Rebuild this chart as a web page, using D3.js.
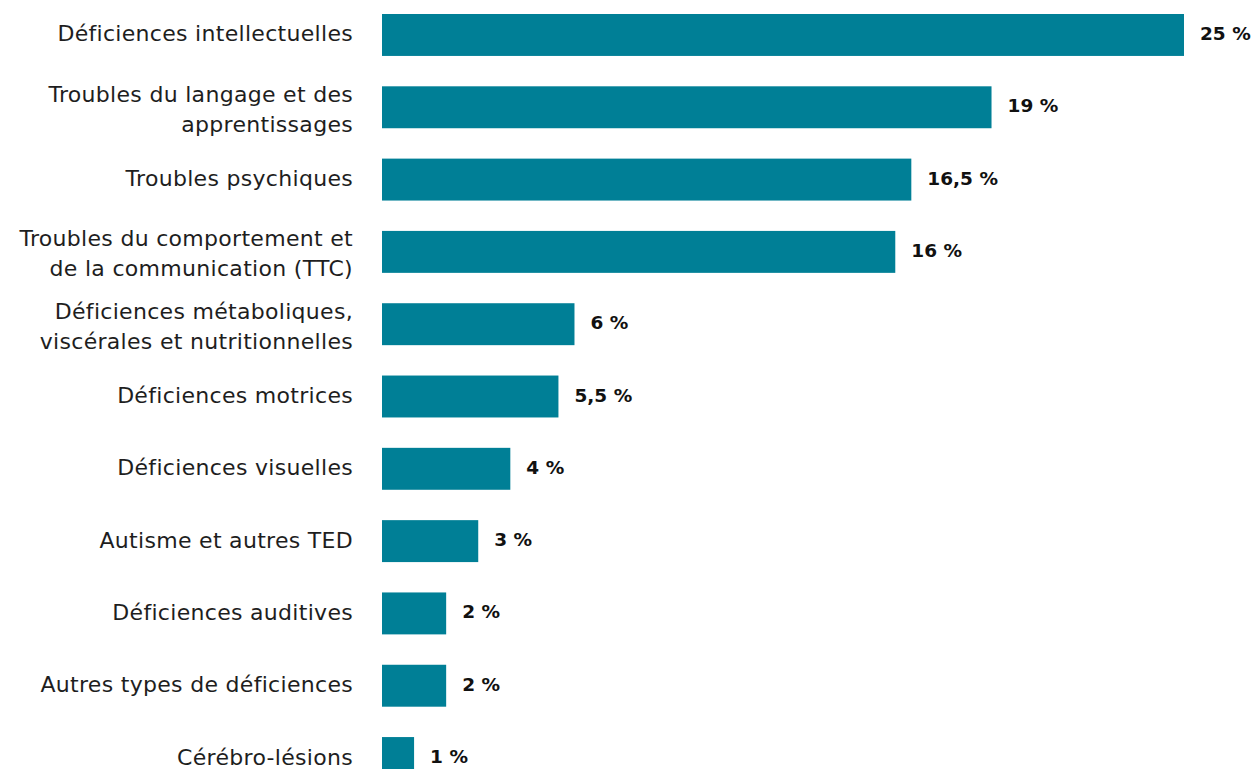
<!DOCTYPE html>
<html>
<head>
<meta charset="utf-8">
<script src="https://cdn.jsdelivr.net/npm/d3@7"></script>
<style>
  body { margin: 0; background: #fff; }
  svg { display: block; }
  .cat { font-family: "DejaVu Sans", sans-serif; font-size: 22px; letter-spacing: 0.3px; fill: #1e1e1e; }
  .val { font-family: "DejaVu Sans", sans-serif; font-size: 18.5px; font-weight: bold; fill: #111; }
</style>
</head>
<body>
<svg width="1253" height="769"></svg>
<script>
// categories, one entry per bar (lines of the label)
var categories = [
  ["Déficiences intellectuelles"],
  ["Troubles du langage et des", "apprentissages"],
  ["Troubles psychiques"],
  ["Troubles du comportement et", "de la communication (TTC)"],
  ["Déficiences métaboliques,", "viscérales et nutritionnelles"],
  ["Déficiences motrices"],
  ["Déficiences visuelles"],
  ["Autisme et autres TED"],
  ["Déficiences auditives"],
  ["Autres types de déficiences"],
  ["Cérébro-lésions"]
];
var values = [25, 19, 16.5, 16, 6, 5.5, 4, 3, 2, 2, 1];
var valueLabels = ["25 %", "19 %", "16,5 %", "16 %", "6 %", "5,5 %", "4 %", "3 %", "2 %", "2 %", "1 %"];

var svg = d3.select('svg');
var barLeft = 382, barTop = 14;

var x = d3.scaleLinear().domain([0, 25]).range([barLeft, 1184]);
var y = d3.scaleBand()
  .domain(d3.range(values.length))
  .range([barTop, barTop + 10 * 72.3 + 42])
  .paddingInner(0.42)
  .paddingOuter(0);

var rows = svg.selectAll('g.row')
  .data(values)
  .enter()
  .append('g')
  .attr('class', 'row');

rows.append('rect')
  .attr('x', x(0))
  .attr('y', function(d, i) { return y(i); })
  .attr('width', function(d) { return x(d) - x(0); })
  .attr('height', y.bandwidth())
  .style('fill', '#007f96');

rows.append('text')
  .attr('class', 'val')
  .attr('x', function(d) { return x(d) + 16; })
  .attr('y', function(d, i) { return y(i) + y.bandwidth() / 2 + 5; })
  .text(function(d, i) { return valueLabels[i]; });

rows.each(function(d, i) {
  var lines = categories[i];
  var mid = y(i) + y.bandwidth() / 2;
  var first = lines.length == 1 ? mid + 6.5 : mid - 5.5;
  var t = d3.select(this).append('text')
    .attr('class', 'cat')
    .attr('text-anchor', 'end');
  lines.forEach(function(l, k) {
    t.append('tspan')
      .attr('x', 353)
      .attr('y', first + k * 30)
      .text(l);
  });
});
</script>
</body>
</html>
